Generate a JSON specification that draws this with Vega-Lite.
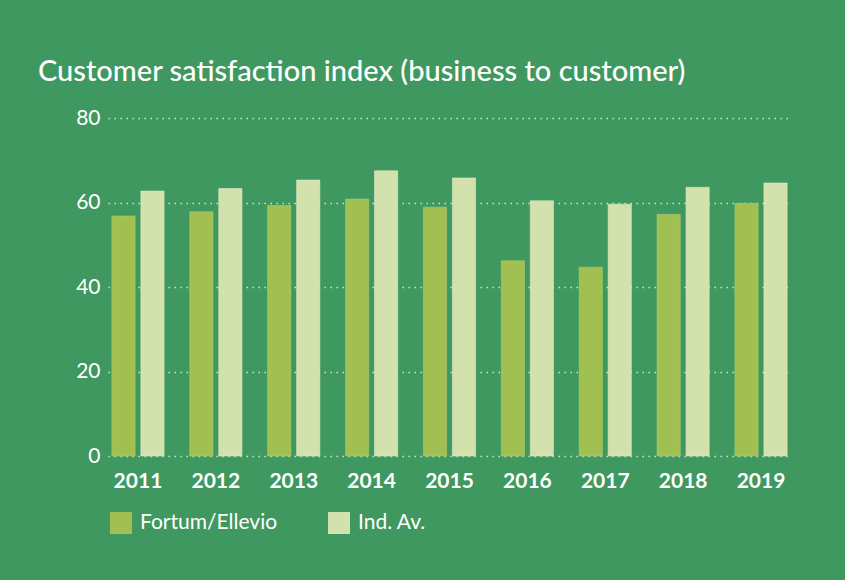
{
  "$schema": "https://vega.github.io/schema/vega-lite/v6.json",
  "autosize": "none",
  "width": 683,
  "height": 338,
  "padding": {"left": 108, "top": 118, "right": 54, "bottom": 124},
  "background": "#3f9860",
  "title": {
    "text": "Customer satisfaction index (business to customer)",
    "anchor": "start",
    "frame": "group",
    "dx": -70,
    "offset": 20,
    "fontSize": 29,
    "fontWeight": 500,
    "font": "Lato",
    "color": "#ffffff"
  },
  "data": {
    "values": [
      {"year": "2011", "series": "Fortum/Ellevio", "value": 56.8},
      {"year": "2011", "series": "Ind. Av.", "value": 62.7},
      {"year": "2012", "series": "Fortum/Ellevio", "value": 57.8},
      {"year": "2012", "series": "Ind. Av.", "value": 63.3},
      {"year": "2013", "series": "Fortum/Ellevio", "value": 59.3},
      {"year": "2013", "series": "Ind. Av.", "value": 65.3},
      {"year": "2014", "series": "Fortum/Ellevio", "value": 60.8},
      {"year": "2014", "series": "Ind. Av.", "value": 67.5},
      {"year": "2015", "series": "Fortum/Ellevio", "value": 58.9},
      {"year": "2015", "series": "Ind. Av.", "value": 65.8},
      {"year": "2016", "series": "Fortum/Ellevio", "value": 46.2},
      {"year": "2016", "series": "Ind. Av.", "value": 60.4},
      {"year": "2017", "series": "Fortum/Ellevio", "value": 44.7},
      {"year": "2017", "series": "Ind. Av.", "value": 59.6},
      {"year": "2018", "series": "Fortum/Ellevio", "value": 57.2},
      {"year": "2018", "series": "Ind. Av.", "value": 63.6},
      {"year": "2019", "series": "Fortum/Ellevio", "value": 59.8},
      {"year": "2019", "series": "Ind. Av.", "value": 64.6}
    ]
  },
  "mark": {"type": "bar", "strokeWidth": 1, "strokeOpacity": 0.6},
  "encoding": {
    "x": {
      "field": "year",
      "type": "nominal",
      "scale": {"paddingInner": 0.33, "paddingOuter": 0.05},
      "axis": {
        "title": null,
        "labelAngle": 0,
        "domain": false,
        "ticks": false,
        "labelPadding": 14,
        "labelFontSize": 21,
        "labelFontWeight": "bold",
        "labelFont": "Lato",
        "labelColor": "#ffffff"
      }
    },
    "xOffset": {
      "field": "series",
      "type": "nominal",
      "scale": {"paddingInner": 0.2, "paddingOuter": 0}
    },
    "y": {
      "field": "value",
      "type": "quantitative",
      "scale": {"domain": [0, 80], "nice": false},
      "axis": {
        "title": null,
        "values": [0, 20, 40, 60, 80],
        "domain": false,
        "ticks": false,
        "labelPadding": 8,
        "labelFontSize": 21,
        "labelFont": "Lato",
        "labelFontWeight": "normal",
        "labelColor": "#ffffff",
        "grid": true,
        "gridColor": "#d0e2c0",
        "gridDash": [1.5, 4.5],
        "gridWidth": 1.5
      }
    },
    "color": {
      "field": "series",
      "type": "nominal",
      "scale": {"domain": ["Fortum/Ellevio", "Ind. Av."], "range": ["#a1c051", "#d3e1ad"]},
      "legend": {
        "title": null,
        "orient": "none",
        "direction": "horizontal",
        "legendX": 2,
        "legendY": 394,
        "padding": 0,
        "symbolType": "square",
        "symbolSize": 484,
        "symbolStrokeWidth": 0,
        "symbolOpacity": 1,
        "labelFontSize": 21,
        "labelFont": "Lato",
        "labelFontWeight": "normal",
        "labelColor": "#ffffff",
        "labelOffset": 8,
        "columnPadding": 50
      }
    },
    "stroke": {
      "field": "series",
      "type": "nominal",
      "scale": {"domain": ["Fortum/Ellevio", "Ind. Av."], "range": ["#b0cc6a", "#e0eac4"]},
      "legend": null
    }
  },
  "config": {"view": {"stroke": null}}
}
